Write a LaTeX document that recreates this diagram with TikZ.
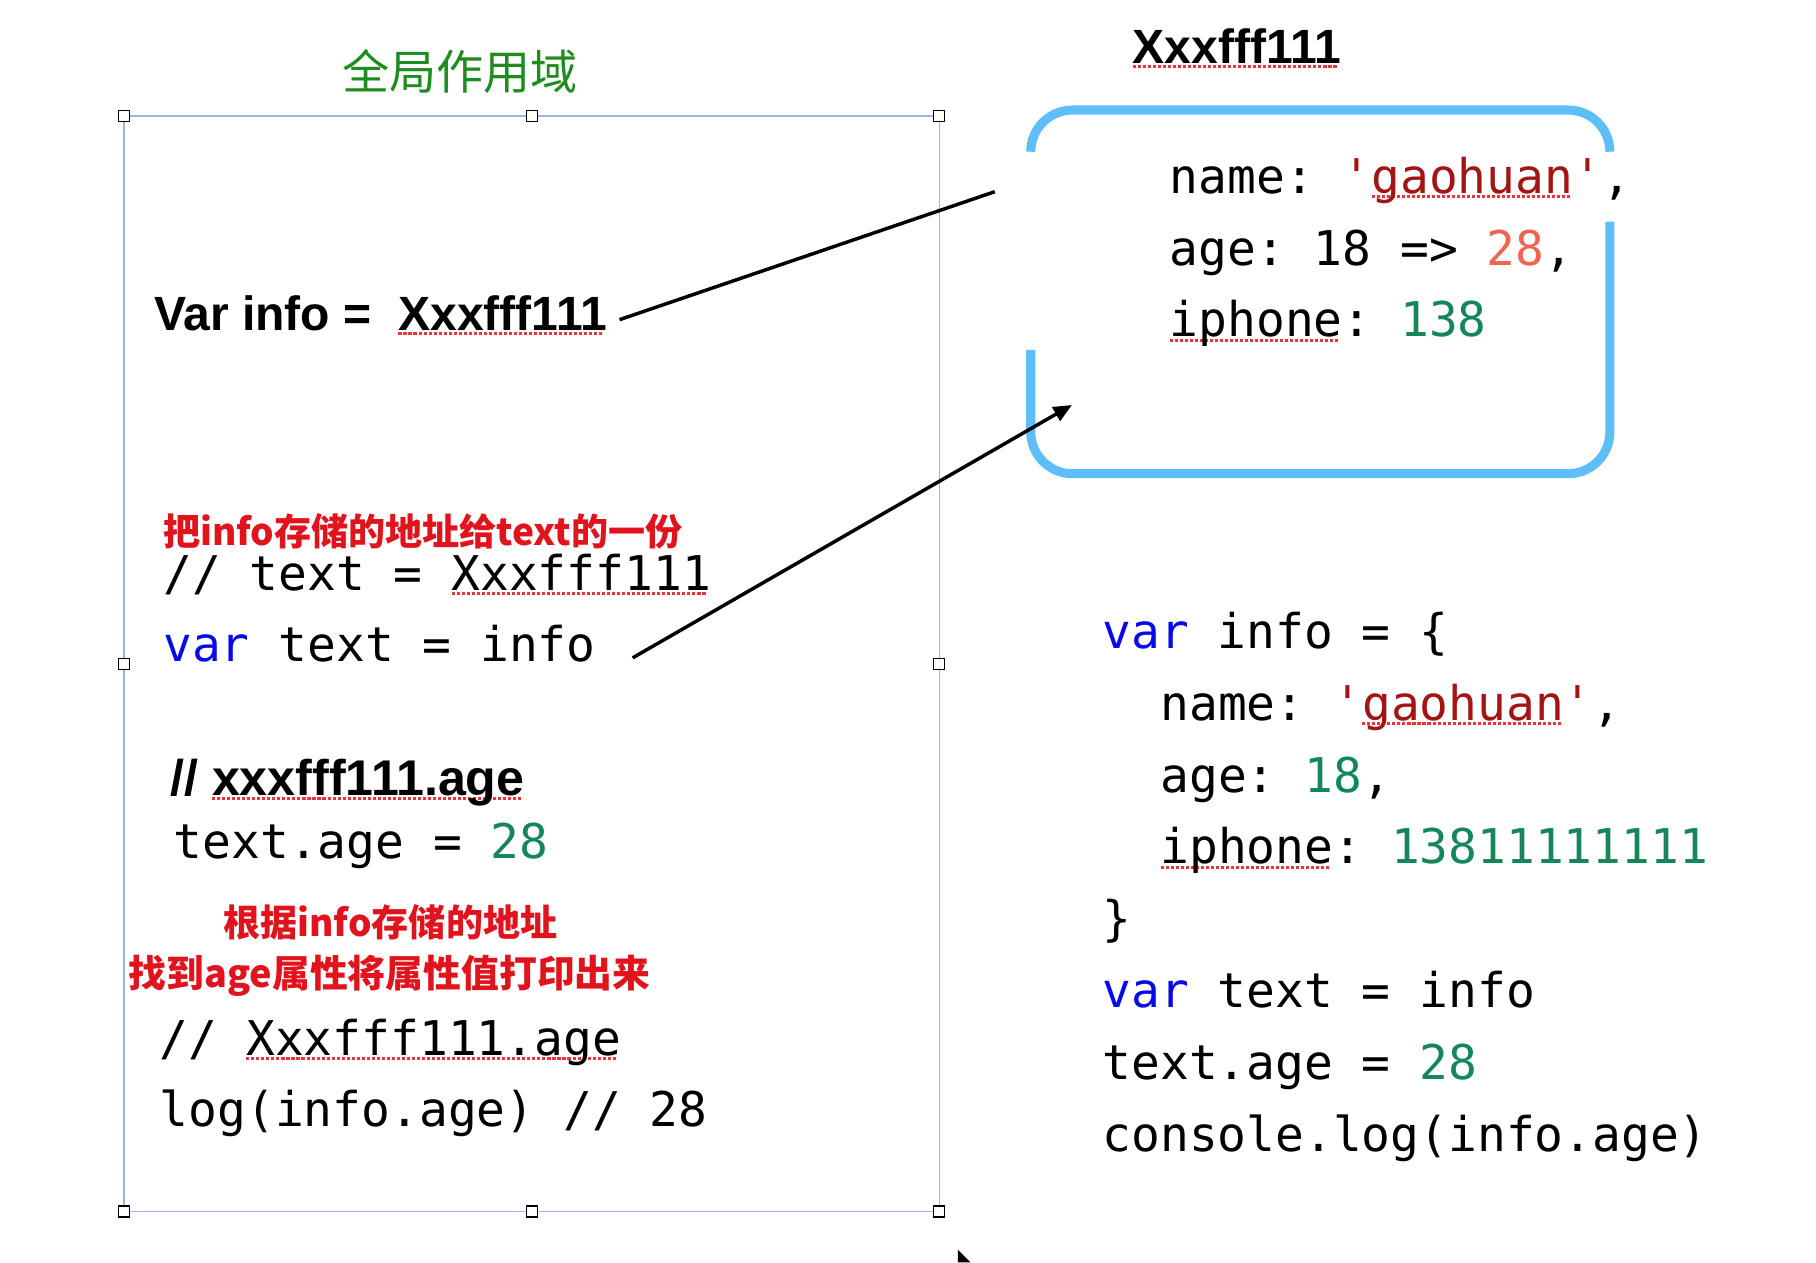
\documentclass[tikz,border=0pt]{standalone}
\usepackage{fontspec}
\usetikzlibrary{arrows.meta,calc}
\setmainfont{Liberation Sans}
\newfontfamily\monof{DejaVu Sans Mono}
\newfontfamily\cjk{Noto Sans CJK SC}
\definecolor{selblue}{RGB}{152,178,236}
\definecolor{boxblue}{RGB}{94,190,248}
\definecolor{kwblue}{RGB}{10,10,230}
\definecolor{strred}{RGB}{163,21,21}
\definecolor{numgreen}{RGB}{20,134,88}
\definecolor{coral}{RGB}{240,100,80}
\definecolor{titlegreen}{RGB}{30,140,30}
\definecolor{redtxt}{RGB}{225,20,30}
\definecolor{sqred}{RGB}{238,50,60}
\newsavebox\sqbox
\newcommand\sqg[1]{\sbox\sqbox{#1}\rlap{\hbox to \wd\sqbox{\color{sqred}\leaders\hbox{\rule[-2.6pt]{1.6pt}{1.6pt}\kern1.0pt}\hfill}}\usebox\sqbox}
\newcommand\kw[1]{\textcolor{kwblue}{#1}}
\newcommand\str[1]{\textcolor{strred}{#1}}
\newcommand\num[1]{\textcolor{numgreen}{#1}}
\frenchspacing
\tikzset{
  txt/.style={inner sep=0pt, outer sep=0pt, anchor=base west},
  mono/.style={txt, font=\monof\fontsize{24.8}{30}\selectfont},
  boldlbl/.style={txt, font=\bfseries\fontsize{24.9}{29}\selectfont},
  redlbl/.style={txt, text=redtxt, font=\cjk\bfseries\fontsize{19.2}{24}\selectfont},
  titlelbl/.style={inner sep=0pt, anchor=base, text=titlegreen, font=\cjk\fontsize{24.4}{29}\selectfont},
  handle/.style={draw=black, fill=white, line width=0.6pt, minimum size=5.7pt, inner sep=0pt},
  selrect/.style={draw=selblue, line width=0.8pt},
  membox/.style={draw=boxblue, line width=4.7pt, rounded corners=21.6pt},
  conn/.style={draw=black, line width=1.8pt},
}
\begin{document}
\begin{tikzpicture}[x=0.6pt, y=-0.6pt]
\useasboundingbox (0,0) rectangle (1568,1090);

% selection rectangle with handles
\draw[selrect] (107,100) rectangle (811,1046);
\foreach \n/\px/\py in {h1/107/100, h2/459/100, h3/811/100, h4/107/573, h5/811/573, h6/107/1046, h7/459/1046, h8/811/1046}
  \node[handle] (\n) at (\px,\py) {};

% memory box (with gaps)
\draw[membox] (890,131) |- (1390,95) -- (1390,131);
\draw[membox] (1390,191.4) |- (890,409) -- (890,302);

% title
\node[titlelbl] (title) at (397,77.5) {全局作用域};

% left column
\node[boldlbl] (varinfo) at (133,285) {Var info =~~\sqg{Xxxfff111}};
\node[redlbl] (red1) at (141,470.6) {把info存储的地址给text的一份};
\node[mono] (m1) at (141,509.6) {// text = \sqg{Xxxfff111}};
\node[mono] (m2) at (141,571) {\kw{var} text = info};
\node[boldlbl, font=\bfseries\fontsize{26}{30}\selectfont] (b2) at (147,686.5) {// \sqg{xxxfff111.age}};
\node[mono] (m3) at (150,741) {text.age = \num{28}};
\node[redlbl] (red2) at (193,809) {根据info存储的地址};
\node[redlbl, font=\cjk\bfseries\fontsize{19.6}{24}\selectfont] (red3) at (111,853) {找到age属性将属性值打印出来};
\node[mono] (m4) at (138,911) {// \sqg{Xxxfff111.age}};
\node[mono] (m5) at (138,973) {log(info.age) // 28};

% top right label
\node[boldlbl] (addr) at (978,54.7) {\sqg{Xxxfff111}};

% box contents
\node[mono] (bx1) at (1010,167) {name: \str{\textquotesingle\sqg{gaohuan}\textquotesingle},};
\node[mono] (bx2) at (1010,229) {age: 18 => \textcolor{coral}{28},};
\node[mono] (bx3) at (1010,290.7) {\sqg{iphone}: \num{138}};

% right code block
\node[mono] (r1) at (952,560) {\kw{var} info = \{};
\node[mono] (r2) at (1002,622) {name: \str{\textquotesingle\sqg{gaohuan}\textquotesingle},};
\node[mono] (r3) at (1002,684) {age: \num{18},};
\node[mono] (r4) at (1002,746) {\sqg{iphone}: \num{13811111111}};
\node[mono] (r5) at (952,808) {\}};
\node[mono] (r6) at (952,870) {\kw{var} text = info};
\node[mono] (r7) at (952,932) {text.age = \num{28}};
\node[mono] (r8) at (952,994) {console.log(info.age)};

% connectors
\coordinate (c1) at (859,165.5);
\draw[conn] ($(varinfo.base east)+(11,-9)$) -- (c1);
\coordinate (c2) at (925.5,349.7);
\draw[conn, -{Triangle[length=9.5pt,width=8pt]}] ($(m2.base east)+(32,-3)$) -- (c2);

% mouse cursor fragment
\fill[black] (827,1079) -- (827,1090) -- (838,1090) -- cycle;
\end{tikzpicture}
\end{document}
